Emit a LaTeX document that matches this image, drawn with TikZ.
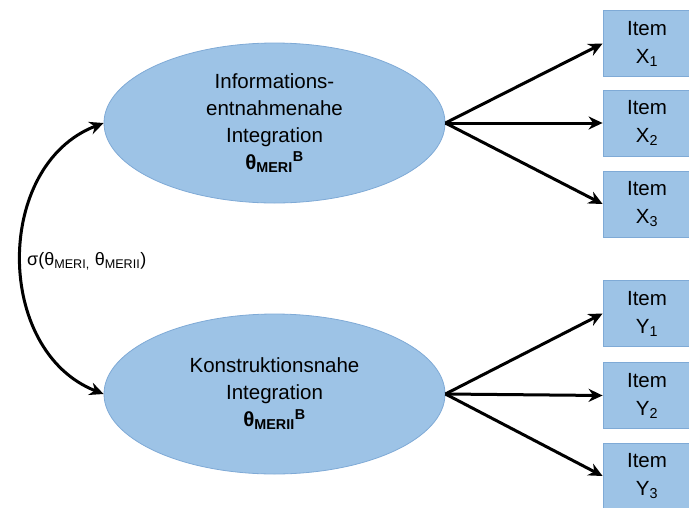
\documentclass[tikz,border=0pt]{standalone}
\usepackage{fontspec}
\setmainfont{Liberation Sans}
\usetikzlibrary{shapes.geometric,arrows.meta}
\definecolor{fillblue}{HTML}{9DC3E6}
\definecolor{edgeblue}{HTML}{7FAAD6}
\tikzset{
  latent/.style={ellipse, draw=edgeblue, line width=0.8pt, fill=fillblue, inner sep=0pt,
    minimum width=341pt, minimum height=160pt, align=center,
    font=\fontsize{20.5}{27}\selectfont},
  itembox/.style={rectangle, draw=edgeblue, line width=0.8pt, fill=fillblue, inner sep=0pt,
    minimum width=88pt, minimum height=66pt, align=center,
    font=\fontsize{20.5}{28}\selectfont},
  conn/.style={line width=3pt, -{Stealth[length=14pt,width=13pt]}},
  cov/.style={line width=3pt, {Stealth[length=14pt,width=13pt]}-{Stealth[length=14pt,width=13pt]}}
}
\newcommand{\sub}[1]{\textsubscript{#1}}
\begin{document}
\begin{tikzpicture}[x=1pt,y=-1pt]
\useasboundingbox (0,0) rectangle (689,507);
\node[latent] (e1) at (274.5,123) {Informations-\\entnahmenahe\\Integration\\\textbf{θ\sub{MERI}\textsuperscript{B}}};
\node[latent] (e2) at (274.5,394) {Konstruktionsnahe\\Integration\\\textbf{θ\sub{MERII}\textsuperscript{B}}};
\node[itembox] (x1) at (647,43.5) {Item\\X\sub{1}};
\node[itembox] (x2) at (647,123) {Item\\X\sub{2}};
\node[itembox] (x3) at (647,204) {Item\\X\sub{3}};
\node[itembox] (y1) at (647,313.5) {Item\\Y\sub{1}};
\node[itembox] (y2) at (647,395.5) {Item\\Y\sub{2}};
\node[itembox] (y3) at (647,476) {Item\\Y\sub{3}};
\foreach \t in {x1,x2,x3} \draw[conn] (e1.east) -- (\t.west);
\foreach \t in {y1,y2,y3} \draw[conn] (e2.east) -- (\t.west);
\draw[cov] (e1.west) .. controls (-6,165) and (-6,351) .. (e2.west);
\node[anchor=west, inner sep=0pt, font=\fontsize{18}{20}\selectfont] (lab) at (27,261) {σ(θ\sub{MERI,} θ\sub{MERII})};
\end{tikzpicture}
\end{document}
